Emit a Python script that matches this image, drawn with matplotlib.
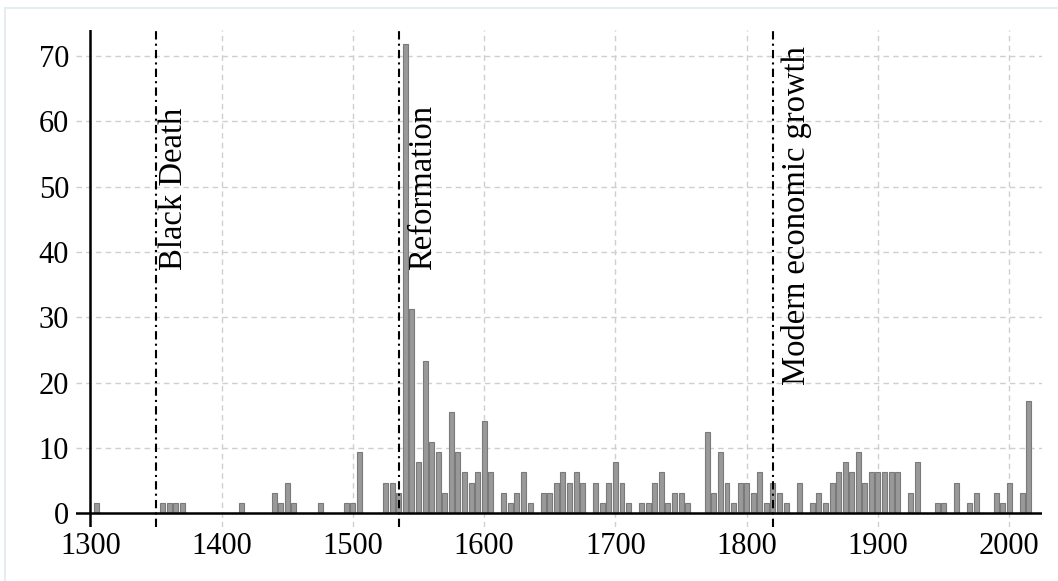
import matplotlib
matplotlib.use("Agg")
from matplotlib import pyplot as plt
from matplotlib.lines import Line2D

# share of events per 5-year bin (percent), only non-empty bins listed
years = [
    1305, 1355, 1360, 1365, 1370, 1415, 1440, 1445, 1450, 1455, 1475,
    1495, 1500, 1505, 1525, 1530, 1535, 1540, 1545, 1550, 1555, 1560,
    1565, 1570, 1575, 1580, 1585, 1590, 1595, 1600, 1605, 1615, 1620,
    1625, 1630, 1635, 1645, 1650, 1655, 1660, 1665, 1670, 1675, 1685,
    1690, 1695, 1700, 1705, 1710, 1720, 1725, 1730, 1735, 1740, 1745,
    1750, 1755, 1770, 1775, 1780, 1785, 1790, 1795, 1800, 1805, 1810,
    1815, 1820, 1825, 1830, 1840, 1850, 1855, 1860, 1865, 1870, 1875,
    1880, 1885, 1890, 1895, 1900, 1905, 1910, 1915, 1925, 1930, 1945,
    1950, 1960, 1970, 1975, 1990, 1995, 2000, 2010, 2015,
]
shares = [
    1.6, 1.6, 1.6, 1.6, 1.6, 1.6, 3.1, 1.6, 4.7, 1.6, 1.6,
    1.6, 1.6, 9.4, 4.7, 4.7, 3.1, 71.9, 31.3, 7.8, 23.4, 10.9,
    9.4, 3.1, 15.6, 9.4, 6.3, 4.7, 6.3, 14.1, 6.3, 3.1, 1.6,
    3.1, 6.3, 1.6, 3.1, 3.1, 4.7, 6.3, 4.7, 6.3, 4.7, 4.7,
    1.6, 4.7, 7.8, 4.7, 1.6, 1.6, 1.6, 4.7, 6.3, 1.6, 3.1,
    3.1, 1.6, 12.5, 3.1, 9.4, 4.7, 1.6, 4.7, 4.7, 3.1, 6.3,
    1.6, 4.7, 3.1, 1.6, 4.7, 1.6, 3.1, 1.6, 4.7, 6.3, 7.8,
    6.3, 9.4, 4.7, 6.3, 6.3, 6.3, 6.3, 6.3, 3.1, 7.8, 1.6,
    1.6, 4.7, 1.6, 3.1, 3.1, 1.6, 4.7, 3.1, 17.2,
]

events = ["Black Death", "Reformation", "Modern economic growth"]
event_years = [1350, 1535, 1820]
# where the rotated labels sit (x centre, bottom in data units)
label_x = [1363.7, 1553.3, 1838.0]
label_y = [37.2, 37.2, 19.6]

plt.rcParams["font.family"] = ["Liberation Serif", "DejaVu Serif"]

fig = plt.figure(figsize=(10.58, 5.81), dpi=100)
ax = fig.add_axes([0.0718, 0.0938, 0.9131, 0.8546])

ax.bar(years, shares, width=3.8, color="#999999", edgecolor="#7a7a7a",
       linewidth=0.8, zorder=3)

ax.set_xlim(1289, 2025)
ax.set_ylim(-2, 74)
ax.set_xticks(range(1300, 2001, 100))
ax.set_yticks(range(0, 71, 10))
ax.grid(True, color="#cfcfcf", linestyle=(0, (4, 3)), linewidth=1.0, zorder=0)
for side in ("top", "right", "left", "bottom"):
    ax.spines[side].set_visible(False)
ax.tick_params(axis="both", length=0, labelsize=22)
ax.tick_params(axis="x", pad=4)
ax.tick_params(axis="y", pad=5)

# axis lines drawn through the origin, extending past the plot corner
ax.axhline(0, color="black", linewidth=1.8, zorder=4)
ax.axvline(1300, color="black", linewidth=1.8, zorder=4)

for name, yr, tx, ty in zip(events, event_years, label_x, label_y):
    ax.axvline(yr, color="black", linestyle=(0, (4, 2, 1, 2)),
               linewidth=1.5, zorder=5)
    ax.text(tx, ty, name, rotation=90, ha="center", va="bottom",
            fontsize=23.5, zorder=6)

# faint frame of the original screenshot
fig.add_artist(Line2D([5 / 1058, 1], [1 - 8 / 581, 1 - 8 / 581],
                      transform=fig.transFigure, color="#e6edf1", linewidth=1.5))
fig.add_artist(Line2D([5 / 1058, 5 / 1058], [0, 1 - 8 / 581],
                      transform=fig.transFigure, color="#e6edf1", linewidth=1.5))

fig.savefig("out.png", dpi=100)
